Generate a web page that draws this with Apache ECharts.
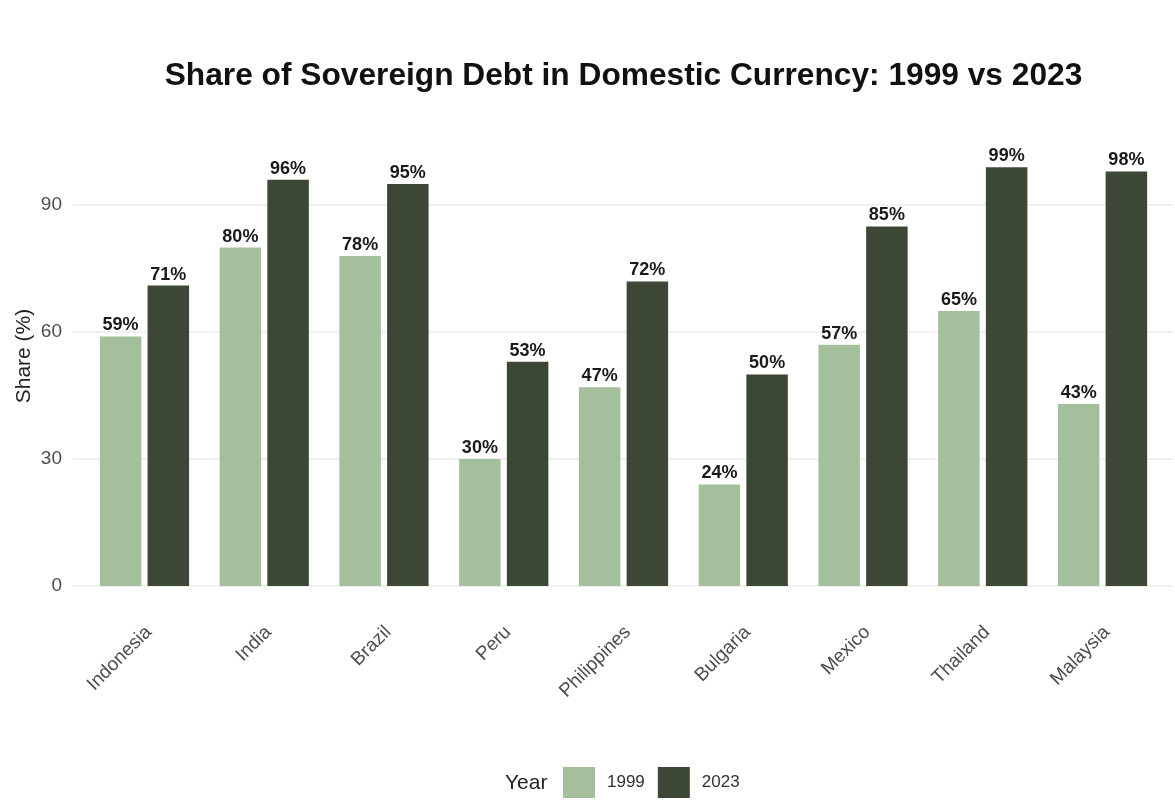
<!DOCTYPE html>
<html>
<head>
<meta charset="utf-8">
<script src="https://cdn.jsdelivr.net/npm/echarts@6/dist/echarts.min.js"></script>
<style>
  html, body { margin: 0; padding: 0; background: #ffffff; }
  #chart { width: 1175px; height: 807px; }
</style>
</head>
<body>
<div id="chart"></div>
<script>
// Share of sovereign debt issued in domestic currency, by country
const countries = ['Indonesia', 'India', 'Brazil', 'Peru', 'Philippines', 'Bulgaria', 'Mexico', 'Thailand', 'Malaysia'];
const share1999 = [59, 80, 78, 30, 47, 24, 57, 65, 43];
const share2023 = [71, 96, 95, 53, 72, 50, 85, 99, 98];
const years = ['1999', '2023'];
const yTicks = [0, 30, 60, 90];

const FONT = '"Liberation Sans", Arial, sans-serif';
const LIGHT = '#a3bf9c';
const DARK = '#3c4835';
const Y_MAX = 104;

const chart = echarts.init(document.getElementById('chart'), null, { renderer: 'canvas' });

const barLabel = {
  show: true,
  position: 'top',
  distance: 2,
  formatter: p => p.value + '%',
  fontFamily: FONT,
  fontWeight: 'bold',
  fontSize: 18,
  color: '#1a1a1a'
};

chart.setOption({
  backgroundColor: '#ffffff',
  animation: false,
  textStyle: { fontFamily: FONT },
  grid: [
    // bars
    { left: 84.6, right: 12.6, top: 146, bottom: 221 },
    // panel background with the horizontal guides and y ticks
    { left: 73, right: 2, top: 146, bottom: 221 }
  ],
  xAxis: [
    {
      type: 'category',
      gridIndex: 0,
      data: countries,
      axisLine: { show: false },
      axisTick: { show: false },
      axisLabel: {
        rotate: 45,
        margin: 39,
        fontSize: 19,
        lineHeight: 12,
        verticalAlign: 'top',
        color: '#4d4d4d',
        fontFamily: FONT
      }
    },
    { type: 'value', gridIndex: 1, show: false, min: 0, max: 1 }
  ],
  yAxis: [
    { type: 'value', gridIndex: 0, min: 0, max: Y_MAX, show: false },
    {
      type: 'value',
      gridIndex: 1,
      min: 0,
      max: Y_MAX,
      interval: 30,
      z: 0,
      axisLine: { show: false },
      axisTick: { show: false },
      axisLabel: {
        margin: 11,
        fontSize: 19,
        color: '#4d4d4d',
        fontFamily: FONT,
        showMaxLabel: false,
        formatter: v => (yTicks.indexOf(v) >= 0 ? String(v) : '')
      },
      splitLine: { show: true, showMaxLine: false, lineStyle: { color: '#ebebeb', width: 1.5 } }
    }
  ],
  legend: {
    left: 563,
    top: 767,
    padding: 0,
    icon: 'rect',
    itemWidth: 32,
    itemHeight: 31,
    itemGap: 13,
    data: years,
    textStyle: { fontSize: 17, color: '#333333', fontFamily: FONT, padding: [0, 0, 0, 7] }
  },
  graphic: [
    {
      type: 'text',
      x: 623.5,
      y: 76,
      style: {
        text: 'Share of Sovereign Debt in Domestic Currency: 1999 vs 2023',
        x: 0, y: 0,
        textAlign: 'center',
        textVerticalAlign: 'middle',
        fontFamily: FONT,
        fontWeight: 'bold',
        fontSize: 31.7,
        fill: '#111111'
      }
    },
    {
      type: 'text',
      x: 24,
      y: 356,
      rotation: Math.PI / 2,
      style: {
        text: 'Share (%)',
        textAlign: 'center',
        textVerticalAlign: 'middle',
        fontFamily: FONT,
        fontSize: 21,
        fill: '#222222'
      }
    },
    {
      type: 'text',
      x: 505,
      y: 783,
      style: {
        text: 'Year',
        textAlign: 'left',
        textVerticalAlign: 'middle',
        fontFamily: FONT,
        fontSize: 21,
        fill: '#222222'
      }
    }
  ],
  series: [
    {
      name: years[0],
      type: 'bar',
      xAxisIndex: 0,
      yAxisIndex: 0,
      data: share1999,
      barWidth: 41.5,
      barGap: '15%',
      itemStyle: { color: LIGHT },
      label: barLabel
    },
    {
      name: years[1],
      type: 'bar',
      xAxisIndex: 0,
      yAxisIndex: 0,
      data: share2023,
      barWidth: 41.5,
      barGap: '15%',
      itemStyle: { color: DARK },
      label: barLabel
    }
  ]
});
</script>
</body>
</html>
